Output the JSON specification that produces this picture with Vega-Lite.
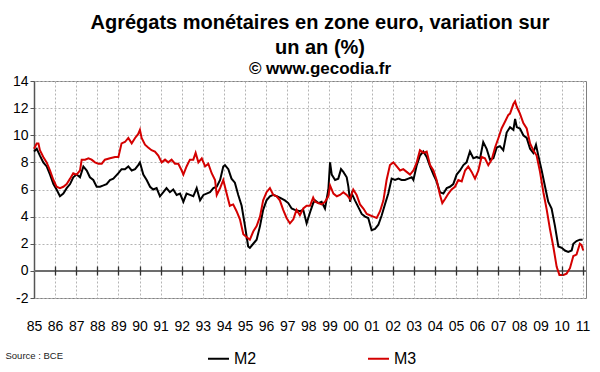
{
  "$schema": "https://vega.github.io/schema/vega-lite/v6.json",
  "autosize": {"type": "none"},
  "padding": {"left": 34, "top": 81, "right": 14, "bottom": 74},
  "width": 552,
  "height": 217,
  "background": "white",
  "config": {
    "font": "Liberation Sans",
    "view": {"stroke": "#808080", "strokeWidth": 1},
    "axisY": {"values": [-2,0,2,4,6,8,10,12,14], "title": null, "labelFont": "Liberation Sans", "labelFontSize": 14, "labelColor": "#000000",
      "labelExpr": "datum.value < 0 ? '-' + abs(datum.value) : '' + datum.value", "labelOverlap": false, "labelFlush": false,
      "labelPadding": 2, "tickSize": 4, "tickColor": "#555555", "domain": true, "domainColor": "#555555", "domainWidth": 1.5,
      "grid": true, "gridColor": "#b4b4b4", "gridDash": [2, 2], "gridWidth": 1}
  },
  "title": {
    "text": ["Agrégats monétaires en zone euro, variation sur", "un an (%)"],
    "subtitle": "© www.gecodia.fr",
    "font": "Liberation Sans",
    "fontSize": 20,
    "fontWeight": "bold",
    "lineHeight": 25,
    "color": "#000000",
    "subtitleFont": "Liberation Sans",
    "subtitleFontSize": 17,
    "subtitleFontWeight": "bold",
    "subtitleColor": "#000000",
    "subtitlePadding": 3,
    "anchor": "middle",
    "dx": 10,
    "offset": -3
  },
  "data": {"values": [
{"s":"M2","t":1985.00,"v":8.8},{"s":"M2","t":1985.13,"v":9.0},{"s":"M2","t":1985.28,"v":8.5},{"s":"M2","t":1985.44,"v":8.0},{"s":"M2","t":1985.60,"v":7.7},{"s":"M2","t":1985.76,"v":7.1},{"s":"M2","t":1985.92,"v":6.4},{"s":"M2","t":1986.07,"v":6.0},{"s":"M2","t":1986.23,"v":5.5},{"s":"M2","t":1986.39,"v":5.7},{"s":"M2","t":1986.55,"v":6.1},{"s":"M2","t":1986.71,"v":6.4},{"s":"M2","t":1986.86,"v":6.9},{"s":"M2","t":1987.02,"v":7.1},{"s":"M2","t":1987.18,"v":6.9},{"s":"M2","t":1987.34,"v":7.7},{"s":"M2","t":1987.50,"v":7.4},{"s":"M2","t":1987.65,"v":6.9},{"s":"M2","t":1987.81,"v":6.7},{"s":"M2","t":1987.97,"v":6.2},{"s":"M2","t":1988.13,"v":6.2},{"s":"M2","t":1988.29,"v":6.3},{"s":"M2","t":1988.44,"v":6.4},{"s":"M2","t":1988.60,"v":6.7},{"s":"M2","t":1988.76,"v":6.8},{"s":"M2","t":1989.00,"v":7.2},{"s":"M2","t":1989.15,"v":7.5},{"s":"M2","t":1989.31,"v":7.5},{"s":"M2","t":1989.47,"v":7.7},{"s":"M2","t":1989.63,"v":7.4},{"s":"M2","t":1989.79,"v":7.5},{"s":"M2","t":1989.94,"v":7.8},{"s":"M2","t":1990.02,"v":8.0},{"s":"M2","t":1990.18,"v":7.1},{"s":"M2","t":1990.34,"v":6.7},{"s":"M2","t":1990.50,"v":6.2},{"s":"M2","t":1990.65,"v":6.0},{"s":"M2","t":1990.81,"v":6.1},{"s":"M2","t":1990.97,"v":5.5},{"s":"M2","t":1991.13,"v":5.8},{"s":"M2","t":1991.28,"v":6.1},{"s":"M2","t":1991.44,"v":5.8},{"s":"M2","t":1991.60,"v":6.0},{"s":"M2","t":1991.76,"v":5.6},{"s":"M2","t":1991.92,"v":5.7},{"s":"M2","t":1992.08,"v":5.1},{"s":"M2","t":1992.23,"v":5.7},{"s":"M2","t":1992.39,"v":5.6},{"s":"M2","t":1992.55,"v":5.5},{"s":"M2","t":1992.71,"v":6.1},{"s":"M2","t":1992.87,"v":5.2},{"s":"M2","t":1993.03,"v":5.6},{"s":"M2","t":1993.18,"v":5.7},{"s":"M2","t":1993.34,"v":5.8},{"s":"M2","t":1993.50,"v":6.1},{"s":"M2","t":1993.66,"v":6.2},{"s":"M2","t":1993.82,"v":6.7},{"s":"M2","t":1993.97,"v":7.7},{"s":"M2","t":1994.05,"v":7.8},{"s":"M2","t":1994.21,"v":7.5},{"s":"M2","t":1994.36,"v":6.8},{"s":"M2","t":1994.52,"v":6.5},{"s":"M2","t":1994.68,"v":5.6},{"s":"M2","t":1994.84,"v":4.8},{"s":"M2","t":1995.00,"v":3.3},{"s":"M2","t":1995.15,"v":1.8},{"s":"M2","t":1995.23,"v":1.7},{"s":"M2","t":1995.39,"v":2.0},{"s":"M2","t":1995.55,"v":2.3},{"s":"M2","t":1995.71,"v":3.3},{"s":"M2","t":1995.86,"v":4.5},{"s":"M2","t":1996.02,"v":5.2},{"s":"M2","t":1996.18,"v":5.5},{"s":"M2","t":1996.34,"v":5.6},{"s":"M2","t":1996.50,"v":5.5},{"s":"M2","t":1996.65,"v":5.4},{"s":"M2","t":1996.89,"v":5.2},{"s":"M2","t":1997.05,"v":5.0},{"s":"M2","t":1997.21,"v":4.6},{"s":"M2","t":1997.36,"v":4.5},{"s":"M2","t":1997.60,"v":4.4},{"s":"M2","t":1997.76,"v":4.5},{"s":"M2","t":1997.92,"v":3.5},{"s":"M2","t":1998.08,"v":4.3},{"s":"M2","t":1998.23,"v":5.0},{"s":"M2","t":1998.32,"v":5.2},{"s":"M2","t":1998.48,"v":5.0},{"s":"M2","t":1998.63,"v":5.1},{"s":"M2","t":1998.79,"v":4.6},{"s":"M2","t":1998.95,"v":6.0},{"s":"M2","t":1999.03,"v":8.0},{"s":"M2","t":1999.11,"v":7.1},{"s":"M2","t":1999.27,"v":6.7},{"s":"M2","t":1999.42,"v":6.8},{"s":"M2","t":1999.55,"v":7.5},{"s":"M2","t":1999.66,"v":7.3},{"s":"M2","t":1999.82,"v":6.9},{"s":"M2","t":1999.90,"v":6.2},{"s":"M2","t":1999.98,"v":5.1},{"s":"M2","t":2000.06,"v":5.7},{"s":"M2","t":2000.21,"v":5.2},{"s":"M2","t":2000.37,"v":4.7},{"s":"M2","t":2000.53,"v":4.2},{"s":"M2","t":2000.69,"v":4.0},{"s":"M2","t":2000.84,"v":3.9},{"s":"M2","t":2001.00,"v":3.0},{"s":"M2","t":2001.16,"v":3.1},{"s":"M2","t":2001.32,"v":3.4},{"s":"M2","t":2001.48,"v":4.1},{"s":"M2","t":2001.63,"v":4.9},{"s":"M2","t":2001.79,"v":5.7},{"s":"M2","t":2001.95,"v":6.8},{"s":"M2","t":2002.11,"v":6.7},{"s":"M2","t":2002.27,"v":6.8},{"s":"M2","t":2002.42,"v":6.7},{"s":"M2","t":2002.58,"v":6.7},{"s":"M2","t":2002.74,"v":6.8},{"s":"M2","t":2002.90,"v":6.9},{"s":"M2","t":2002.98,"v":6.7},{"s":"M2","t":2003.14,"v":7.8},{"s":"M2","t":2003.29,"v":8.5},{"s":"M2","t":2003.45,"v":8.8},{"s":"M2","t":2003.61,"v":8.4},{"s":"M2","t":2003.77,"v":7.7},{"s":"M2","t":2003.93,"v":7.1},{"s":"M2","t":2004.08,"v":6.6},{"s":"M2","t":2004.24,"v":5.8},{"s":"M2","t":2004.40,"v":5.7},{"s":"M2","t":2004.56,"v":6.1},{"s":"M2","t":2004.71,"v":6.2},{"s":"M2","t":2004.87,"v":6.4},{"s":"M2","t":2005.03,"v":7.1},{"s":"M2","t":2005.19,"v":7.4},{"s":"M2","t":2005.35,"v":7.8},{"s":"M2","t":2005.50,"v":8.0},{"s":"M2","t":2005.66,"v":8.8},{"s":"M2","t":2005.82,"v":8.3},{"s":"M2","t":2005.98,"v":8.4},{"s":"M2","t":2006.14,"v":8.3},{"s":"M2","t":2006.29,"v":9.5},{"s":"M2","t":2006.45,"v":9.0},{"s":"M2","t":2006.61,"v":8.2},{"s":"M2","t":2006.77,"v":8.3},{"s":"M2","t":2006.93,"v":9.1},{"s":"M2","t":2007.08,"v":9.2},{"s":"M2","t":2007.24,"v":8.9},{"s":"M2","t":2007.40,"v":10.2},{"s":"M2","t":2007.56,"v":10.6},{"s":"M2","t":2007.72,"v":10.4},{"s":"M2","t":2007.80,"v":11.2},{"s":"M2","t":2007.88,"v":10.6},{"s":"M2","t":2008.03,"v":10.5},{"s":"M2","t":2008.19,"v":10.0},{"s":"M2","t":2008.35,"v":9.8},{"s":"M2","t":2008.51,"v":9.0},{"s":"M2","t":2008.66,"v":8.7},{"s":"M2","t":2008.79,"v":9.3},{"s":"M2","t":2008.90,"v":8.5},{"s":"M2","t":2009.06,"v":7.4},{"s":"M2","t":2009.22,"v":6.2},{"s":"M2","t":2009.37,"v":5.1},{"s":"M2","t":2009.53,"v":4.6},{"s":"M2","t":2009.69,"v":3.3},{"s":"M2","t":2009.85,"v":1.8},{"s":"M2","t":2010.01,"v":1.7},{"s":"M2","t":2010.16,"v":1.5},{"s":"M2","t":2010.32,"v":1.4},{"s":"M2","t":2010.48,"v":1.5},{"s":"M2","t":2010.56,"v":2.0},{"s":"M2","t":2010.71,"v":2.2},{"s":"M2","t":2010.87,"v":2.3},{"s":"M2","t":2011.00,"v":2.3},
{"s":"M3","t":1985.00,"v":9.0},{"s":"M3","t":1985.13,"v":9.4},{"s":"M3","t":1985.21,"v":9.4},{"s":"M3","t":1985.28,"v":8.9},{"s":"M3","t":1985.44,"v":8.4},{"s":"M3","t":1985.60,"v":8.0},{"s":"M3","t":1985.76,"v":7.4},{"s":"M3","t":1985.92,"v":6.7},{"s":"M3","t":1986.07,"v":6.2},{"s":"M3","t":1986.23,"v":6.1},{"s":"M3","t":1986.39,"v":6.2},{"s":"M3","t":1986.55,"v":6.4},{"s":"M3","t":1986.71,"v":6.8},{"s":"M3","t":1986.86,"v":7.2},{"s":"M3","t":1987.02,"v":7.1},{"s":"M3","t":1987.18,"v":7.4},{"s":"M3","t":1987.26,"v":8.2},{"s":"M3","t":1987.42,"v":8.2},{"s":"M3","t":1987.58,"v":8.3},{"s":"M3","t":1987.73,"v":8.2},{"s":"M3","t":1987.89,"v":8.0},{"s":"M3","t":1988.05,"v":7.9},{"s":"M3","t":1988.21,"v":7.9},{"s":"M3","t":1988.36,"v":8.2},{"s":"M3","t":1988.60,"v":8.3},{"s":"M3","t":1988.84,"v":8.4},{"s":"M3","t":1989.00,"v":8.4},{"s":"M3","t":1989.15,"v":9.4},{"s":"M3","t":1989.31,"v":9.5},{"s":"M3","t":1989.47,"v":9.8},{"s":"M3","t":1989.63,"v":9.4},{"s":"M3","t":1989.79,"v":9.8},{"s":"M3","t":1989.94,"v":10.1},{"s":"M3","t":1990.02,"v":10.4},{"s":"M3","t":1990.10,"v":9.8},{"s":"M3","t":1990.26,"v":9.3},{"s":"M3","t":1990.41,"v":9.1},{"s":"M3","t":1990.57,"v":8.9},{"s":"M3","t":1990.73,"v":8.8},{"s":"M3","t":1990.89,"v":8.5},{"s":"M3","t":1991.05,"v":8.0},{"s":"M3","t":1991.21,"v":8.2},{"s":"M3","t":1991.36,"v":8.0},{"s":"M3","t":1991.52,"v":8.2},{"s":"M3","t":1991.68,"v":7.9},{"s":"M3","t":1991.84,"v":7.9},{"s":"M3","t":1992.00,"v":7.4},{"s":"M3","t":1992.08,"v":7.1},{"s":"M3","t":1992.23,"v":7.7},{"s":"M3","t":1992.39,"v":8.2},{"s":"M3","t":1992.55,"v":8.2},{"s":"M3","t":1992.66,"v":8.7},{"s":"M3","t":1992.79,"v":8.0},{"s":"M3","t":1992.95,"v":8.3},{"s":"M3","t":1993.11,"v":7.7},{"s":"M3","t":1993.26,"v":7.9},{"s":"M3","t":1993.42,"v":7.2},{"s":"M3","t":1993.58,"v":6.7},{"s":"M3","t":1993.66,"v":5.6},{"s":"M3","t":1993.82,"v":6.1},{"s":"M3","t":1993.97,"v":6.7},{"s":"M3","t":1994.13,"v":5.7},{"s":"M3","t":1994.28,"v":4.8},{"s":"M3","t":1994.44,"v":4.9},{"s":"M3","t":1994.60,"v":4.4},{"s":"M3","t":1994.76,"v":3.8},{"s":"M3","t":1994.92,"v":2.7},{"s":"M3","t":1995.07,"v":2.5},{"s":"M3","t":1995.23,"v":2.3},{"s":"M3","t":1995.39,"v":2.9},{"s":"M3","t":1995.55,"v":3.3},{"s":"M3","t":1995.71,"v":4.0},{"s":"M3","t":1995.86,"v":5.2},{"s":"M3","t":1996.02,"v":5.8},{"s":"M3","t":1996.18,"v":6.1},{"s":"M3","t":1996.34,"v":5.6},{"s":"M3","t":1996.50,"v":5.5},{"s":"M3","t":1996.65,"v":5.2},{"s":"M3","t":1996.81,"v":4.5},{"s":"M3","t":1996.97,"v":3.9},{"s":"M3","t":1997.13,"v":3.5},{"s":"M3","t":1997.29,"v":3.8},{"s":"M3","t":1997.44,"v":4.5},{"s":"M3","t":1997.60,"v":4.1},{"s":"M3","t":1997.76,"v":4.6},{"s":"M3","t":1997.92,"v":4.8},{"s":"M3","t":1998.08,"v":4.8},{"s":"M3","t":1998.23,"v":5.4},{"s":"M3","t":1998.32,"v":5.1},{"s":"M3","t":1998.48,"v":5.0},{"s":"M3","t":1998.63,"v":4.9},{"s":"M3","t":1998.79,"v":5.1},{"s":"M3","t":1998.95,"v":5.5},{"s":"M3","t":1999.03,"v":6.3},{"s":"M3","t":1999.19,"v":5.7},{"s":"M3","t":1999.35,"v":5.5},{"s":"M3","t":1999.50,"v":5.6},{"s":"M3","t":1999.66,"v":5.8},{"s":"M3","t":1999.82,"v":5.6},{"s":"M3","t":1999.98,"v":5.3},{"s":"M3","t":2000.13,"v":6.0},{"s":"M3","t":2000.29,"v":5.6},{"s":"M3","t":2000.45,"v":4.9},{"s":"M3","t":2000.61,"v":4.6},{"s":"M3","t":2000.77,"v":4.2},{"s":"M3","t":2000.92,"v":4.1},{"s":"M3","t":2001.08,"v":4.0},{"s":"M3","t":2001.24,"v":3.9},{"s":"M3","t":2001.40,"v":4.4},{"s":"M3","t":2001.56,"v":5.2},{"s":"M3","t":2001.71,"v":6.7},{"s":"M3","t":2001.87,"v":7.8},{"s":"M3","t":2002.03,"v":8.0},{"s":"M3","t":2002.19,"v":7.7},{"s":"M3","t":2002.35,"v":7.4},{"s":"M3","t":2002.50,"v":7.5},{"s":"M3","t":2002.66,"v":7.3},{"s":"M3","t":2002.82,"v":7.1},{"s":"M3","t":2002.98,"v":7.4},{"s":"M3","t":2003.14,"v":8.0},{"s":"M3","t":2003.29,"v":8.9},{"s":"M3","t":2003.45,"v":8.7},{"s":"M3","t":2003.61,"v":8.8},{"s":"M3","t":2003.77,"v":7.8},{"s":"M3","t":2003.93,"v":7.4},{"s":"M3","t":2004.08,"v":6.7},{"s":"M3","t":2004.24,"v":5.6},{"s":"M3","t":2004.35,"v":5.0},{"s":"M3","t":2004.48,"v":5.3},{"s":"M3","t":2004.64,"v":5.7},{"s":"M3","t":2004.79,"v":6.0},{"s":"M3","t":2004.95,"v":6.2},{"s":"M3","t":2005.11,"v":6.7},{"s":"M3","t":2005.27,"v":6.6},{"s":"M3","t":2005.43,"v":7.4},{"s":"M3","t":2005.58,"v":7.7},{"s":"M3","t":2005.74,"v":7.3},{"s":"M3","t":2005.90,"v":6.8},{"s":"M3","t":2006.06,"v":7.4},{"s":"M3","t":2006.21,"v":8.4},{"s":"M3","t":2006.37,"v":8.3},{"s":"M3","t":2006.53,"v":7.8},{"s":"M3","t":2006.69,"v":8.2},{"s":"M3","t":2006.85,"v":9.1},{"s":"M3","t":2007.01,"v":9.8},{"s":"M3","t":2007.16,"v":10.5},{"s":"M3","t":2007.32,"v":11.0},{"s":"M3","t":2007.48,"v":11.5},{"s":"M3","t":2007.56,"v":11.6},{"s":"M3","t":2007.72,"v":12.3},{"s":"M3","t":2007.80,"v":12.5},{"s":"M3","t":2007.88,"v":12.1},{"s":"M3","t":2008.03,"v":11.6},{"s":"M3","t":2008.19,"v":10.9},{"s":"M3","t":2008.35,"v":10.5},{"s":"M3","t":2008.51,"v":9.4},{"s":"M3","t":2008.66,"v":8.9},{"s":"M3","t":2008.82,"v":8.5},{"s":"M3","t":2008.98,"v":7.3},{"s":"M3","t":2009.14,"v":5.8},{"s":"M3","t":2009.30,"v":4.5},{"s":"M3","t":2009.45,"v":3.1},{"s":"M3","t":2009.61,"v":1.8},{"s":"M3","t":2009.77,"v":0.3},{"s":"M3","t":2009.90,"v":-0.3},{"s":"M3","t":2010.09,"v":-0.3},{"s":"M3","t":2010.24,"v":-0.2},{"s":"M3","t":2010.40,"v":0.2},{"s":"M3","t":2010.56,"v":1.1},{"s":"M3","t":2010.71,"v":1.2},{"s":"M3","t":2010.87,"v":2.0},{"s":"M3","t":2010.95,"v":1.9},{"s":"M3","t":2011.03,"v":1.5}
  ]},
  "resolve": {"axis": {"x": "independent"}},
  "layer": [
    {
      "mark": {"type": "rule", "color": "#6e6e6e", "strokeWidth": 1.5},
      "encoding": {"y": {"datum": 0, "type": "quantitative", "axis": {"values": [-2,0,2,4,6,8,10,12,14], "tickCount": 9}}}
    },
    {
      "mark": {"type": "line", "strokeWidth": 2, "interpolate": "linear"},
      "encoding": {
        "x": {"field": "t", "type": "quantitative", "scale": {"domain": [1985, 2011.16], "nice": false, "zero": false},
          "axis": {"orient": "bottom", "values": [1985,1986,1987,1988,1989,1990,1991,1992,1993,1994,1995,1996,1997,1998,1999,2000,2001,2002,2003,2004,2005,2006,2007,2008,2009,2010,2011],
            "labelExpr": "slice(format(datum.value, 'd'), 2)", "labelOverlap": false, "labelFlush": false,
            "labelFont": "Liberation Sans", "labelFontSize": 14, "labelColor": "#000000", "labelPadding": 21,
            "ticks": false, "domain": false, "grid": true, "gridColor": "#b4b4b4", "gridDash": [2, 2], "gridWidth": 1,
            "title": "Source : BCE", "titleX": -29, "titleY": 60, "titleAlign": "left", "titleAnchor": "start", "titleBaseline": "alphabetic",
            "titleFont": "Liberation Sans", "titleFontSize": 9.5, "titleFontWeight": "normal", "titleColor": "#222222"}},
        "y": {"field": "v", "type": "quantitative", "scale": {"domain": [-2, 14], "nice": false, "zero": false},
          "axis": {"values": [-2,0,2,4,6,8,10,12,14], "tickCount": 9}},
        "color": {"field": "s", "type": "nominal", "scale": {"domain": ["M2", "M3"], "range": ["#000000", "#d40000"]},
          "legend": {"orient": "none", "legendX": 173, "legendY": 266, "direction": "horizontal", "title": null,
            "symbolType": "stroke", "symbolSize": 441, "symbolStrokeWidth": 2, "labelFont": "Liberation Sans", "labelFontSize": 16,
            "labelColor": "#000000", "labelOffset": 4, "columnPadding": 107}}
      }
    },
    {
      "mark": {"type": "line", "opacity": 0},
      "encoding": {
        "x": {"field": "t", "type": "quantitative", "scale": {"domain": [1985, 2011.16], "nice": false, "zero": false},
          "axis": {"orient": "top", "offset": -194, "values": [1986,1987,1988,1989,1990,1991,1992,1993,1994,1995,1996,1997,1998,1999,2000,2001,2002,2003,2004,2005,2006,2007,2008,2009,2010,2011],
            "labels": false, "domain": false, "grid": false, "ticks": true, "tickSize": 9, "tickColor": "#333333", "tickWidth": 1.3, "title": null, "zindex": 2}},
        "y": {"field": "v", "type": "quantitative", "axis": {"values": [-2,0,2,4,6,8,10,12,14], "tickCount": 9}},
        "detail": {"field": "s"}
      }
    }
  ]
}
